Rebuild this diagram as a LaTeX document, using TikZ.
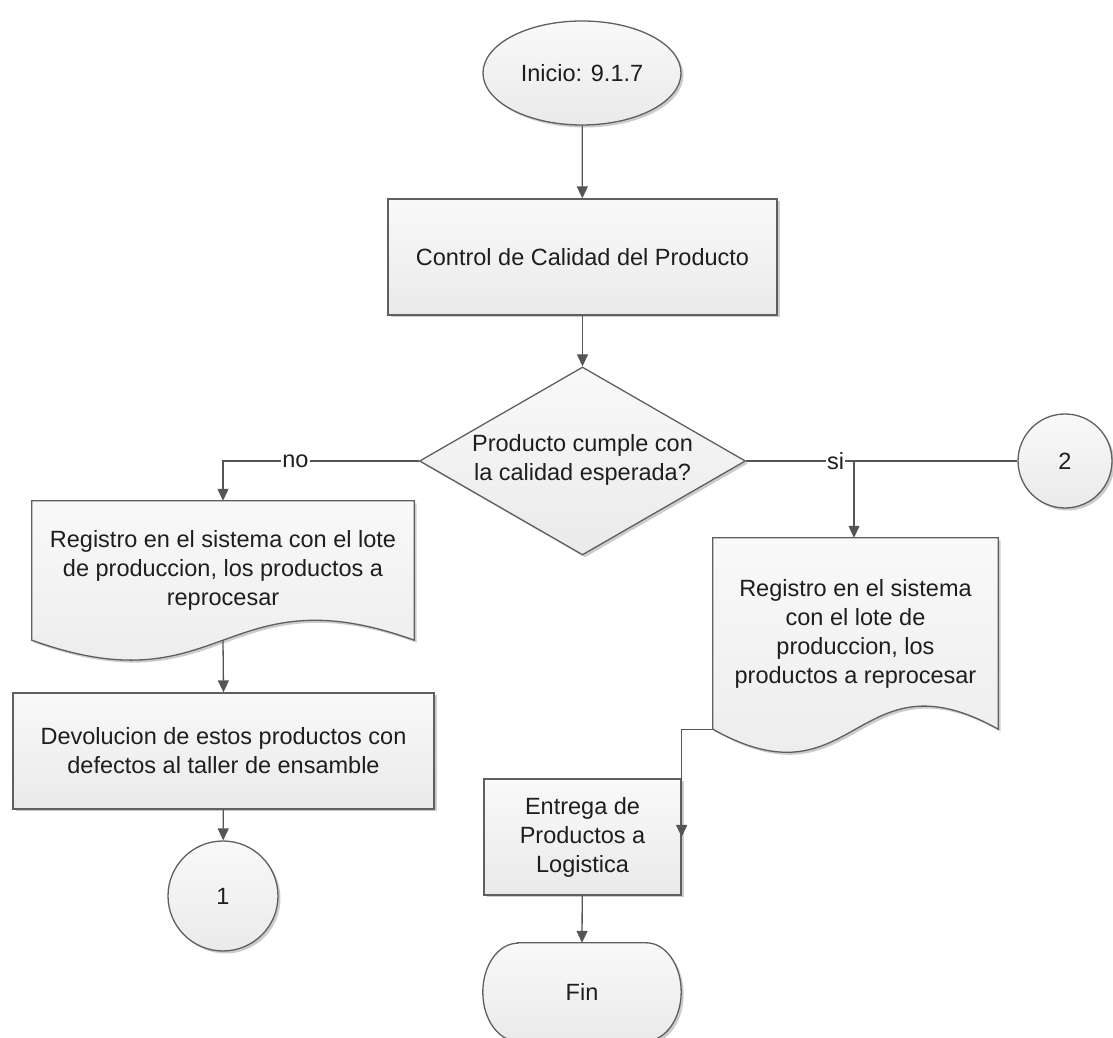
\documentclass[tikz,border=0pt]{standalone}
\usepackage{fontspec}
\setmainfont{Liberation Sans}
\usetikzlibrary{arrows.meta,shapes.geometric,calc,backgrounds,shadows}

\definecolor{edge}{HTML}{5F5F5F}
\definecolor{wire}{HTML}{555555}
\definecolor{ink}{HTML}{1E1E1E}
\definecolor{fillTop}{HTML}{F9F9F9}
\definecolor{fillBot}{HTML}{EAEAEA}

\newcommand\flowfont{\fontsize{23.5pt}{29pt}\selectfont}

\tikzset{
  shapefill/.style={draw=edge, line width=1.3pt, top color=fillTop, bottom color=fillBot},
  soft shadow/.style={drop shadow={shadow xshift=2.5pt, shadow yshift=-2.5pt, fill=black, opacity=0.2}},
  label text/.style={text=ink, font=\flowfont, align=center, inner sep=0pt},
  base/.style={shapefill, soft shadow, label text},
  process/.style={base, rectangle},
  startstop/.style={base, ellipse},
  junction/.style={base, circle},
  decision/.style={base, diamond},
  holder/.style={label text, rectangle, draw=none},
  flow/.style={draw=wire, line width=1.3pt, -{Triangle[width=11pt,length=12pt]}},
  plain/.style={draw=wire, line width=1.3pt},
  branch/.style={fill=white, text=ink, font=\flowfont, inner sep=1pt}
}

\begin{document}
\begin{tikzpicture}[x=1pt,y=1pt]
  \useasboundingbox (0,0) rectangle (1113,1038);
  \clip (0,0) rectangle (1113,1038);

  % main column
  \node[startstop, minimum width=198pt, minimum height=104pt] (start) at (582,965) {Inicio: 9.1.7};
  \node[process, minimum width=389pt, minimum height=116pt] (qc) at (582.5,781) {Control de Calidad del Producto};
  \node[decision, minimum width=326pt, minimum height=188pt] (q) at (582.5,577) {};
  \node[label text] (qtext) at (582.5,578) {Producto cumple con\\la calidad esperada?};

  % "no" branch
  \node[holder, minimum width=382pt, minimum height=139pt] (regA) at (223,467.5)
    {Registro en el sistema con el lote\\de produccion, los productos a\\reprocesar};
  \node[process, minimum width=421pt, minimum height=116pt] (dev) at (223.5,287)
    {Devolucion de estos productos con\\defectos al taller de ensamble};
  \node[junction, minimum size=110pt] (c1) at (223,142) {1};

  % "si" branch
  \node[junction, minimum size=94pt] (c2) at (1065,577) {2};
  \node[holder, minimum width=285pt, minimum height=191pt] (regB) at (855.5,404.5)
    {Registro en el sistema\\con el lote de\\produccion, los\\productos a reprocesar};
  \node[process, minimum width=197pt, minimum height=116pt] (ent) at (582.5,201)
    {Entrega de\\Productos a\\Logistica};
  \node[holder, minimum width=198pt, minimum height=98pt] (fin) at (582,46) {Fin};

  % outlines of the document shapes and the end terminator
  \begin{scope}[on background layer]
    \path[shapefill, soft shadow]
      (regA.north west) -- (regA.north east) -- (regA.south east)
      .. controls ($(regA.south)+(0,69)$) and ($(regA.south)+(0,-69)$) .. (regA.south west)
      -- cycle;
    \path[shapefill, soft shadow]
      (regB.north west) -- (regB.north east) -- (regB.south east)
      .. controls ($(regB.south)+(0,80)$) and ($(regB.south)+(0,-80)$) .. (regB.south west)
      -- cycle;
    \path[shapefill, soft shadow]
      ($(fin.north west)+(35,0)$) -- ($(fin.north east)+(-35,0)$)
      arc[start angle=90, end angle=-90, x radius=35, y radius=49]
      -- ($(fin.south west)+(35,0)$)
      arc[start angle=270, end angle=90, x radius=35, y radius=49]
      -- cycle;
  \end{scope}

  % connectors
  \draw[flow] (start) -- (qc);
  \draw[flow] (qc) -- (q);
  \draw[flow] (q.west) -| node[branch, pos=0.315] {no} (regA.north);
  \draw[flow] (regA.south) -- (dev.north);
  \draw[flow] (dev) -- (c1);

  \coordinate (sij) at (854,577);
  \draw[plain] (q.east) -- node[branch, pos=0.33] {si} (c2.west);
  \draw[flow] (sij) -- (sij |- regB.north);
  \draw[flow] (regB.south west) -| (ent.east);
  \draw[flow] (ent) -- (fin.north);
\end{tikzpicture}
\end{document}
